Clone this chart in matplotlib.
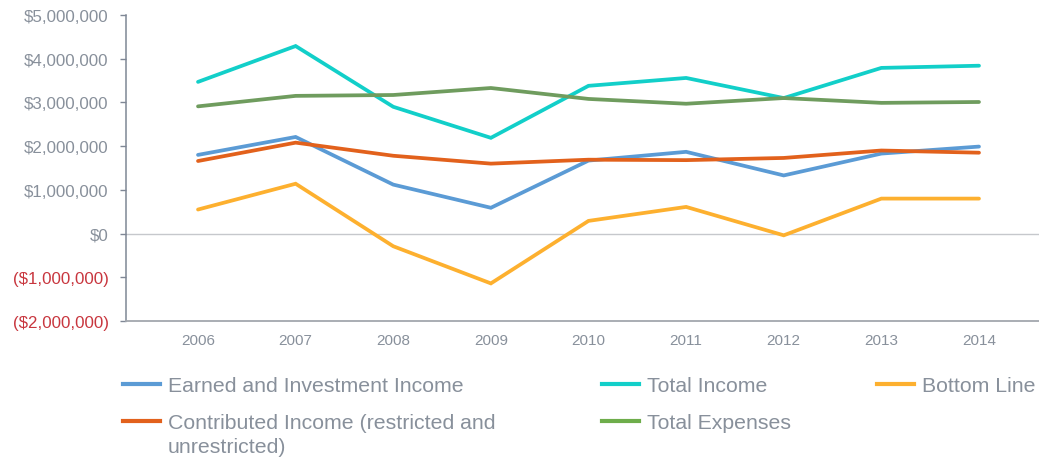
import matplotlib
matplotlib.use("Agg")
import matplotlib.pyplot as plt
from matplotlib.ticker import FuncFormatter
from matplotlib.lines import Line2D

plt.rcParams['font.family'] = ['Liberation Sans', 'DejaVu Sans']

years = ['2006', '2007', '2008', '2009', '2010', '2011', '2012', '2013', '2014']
earned = [1.80, 2.21, 1.12, 0.59, 1.67, 1.87, 1.33, 1.83, 1.99]
total_income = [3.47, 4.29, 2.90, 2.19, 3.38, 3.56, 3.10, 3.79, 3.84]
bottom_line = [0.55, 1.14, -0.29, -1.14, 0.29, 0.61, -0.04, 0.80, 0.80]
contributed = [1.66, 2.08, 1.78, 1.60, 1.69, 1.68, 1.73, 1.90, 1.85]
total_expenses = [2.91, 3.15, 3.17, 3.33, 3.08, 2.97, 3.10, 2.99, 3.01]
yticks = [-2e6, -1e6, 0, 1e6, 2e6, 3e6, 4e6, 5e6]

labels = ['Earned and Investment Income', 'Total Income', 'Bottom Line',
          'Contributed Income (restricted and', 'Total Expenses']
label_wrap = 'unrestricted)'
colors = ['#5B9BD5', '#12CFC9', '#FDB02F', '#E2611C', '#6F9C5E']
legend_colors = ['#5B9BD5', '#12CFC9', '#FDB02F', '#E2611C', '#6EAD4B']
series = [earned, total_income, bottom_line, contributed, total_expenses]

GRAY = '#88909B'
RED = '#C8363E'

fig = plt.figure(figsize=(10.39, 4.60), dpi=100)
ax = fig.add_axes([126/1039, 1-322/460, 1-126/1039, (322-16)/460])

x = list(range(len(years)))
ax.axhline(0, color='#C6C8CC', lw=1.0, zorder=1)
for vals, c in zip(series, colors):
    ax.plot(x, [v*1e6 for v in vals], color=c, lw=2.7, solid_capstyle='round',
            solid_joinstyle='miter', zorder=3)

ax.set_ylim(-2e6, 5e6)
ax.set_xlim(-(198-126)/97.6, 8 + (1039-979)/97.6)
ax.set_yticks(yticks)

def fmt(v, pos):
    if v < 0:
        return '(${:,.0f})'.format(-v)
    return '${:,.0f}'.format(v)
ax.yaxis.set_major_formatter(FuncFormatter(fmt))
ax.set_xticks(x)
ax.set_xticklabels(years)

for s in ['top', 'right']:
    ax.spines[s].set_visible(False)
ax.spines['left'].set_color('#7F8795')
ax.spines['left'].set_linewidth(1.1)
ax.spines['bottom'].set_color('#A3A7AE')
ax.spines['bottom'].set_linewidth(1.3)

ax.tick_params(axis='y', length=4.5, width=1.0, color='#7F8795', pad=8,
               labelsize=12.2, labelcolor=GRAY)
ax.tick_params(axis='x', length=0, pad=9, labelsize=11, labelcolor=GRAY)
for t, v in zip(ax.get_yticklabels(), yticks):
    if v < 0:
        t.set_color(RED)

fs = 15.3
common = dict(frameon=False, fontsize=fs, borderpad=0, borderaxespad=0,
              handlelength=1.72, handletextpad=0.38, labelspacing=0.85,
              labelcolor=GRAY, loc='upper left')

def h(i):
    return Line2D([], [], color=legend_colors[i], lw=3.0)

top = 1 - 377/460
fig.legend([h(0), h(3)], [labels[0], labels[3]],
           bbox_to_anchor=(123/1039, top), **common)
fig.legend([h(1), h(4)], [labels[1], labels[4]],
           bbox_to_anchor=(602/1039, top), **common)
fig.legend([h(2)], [labels[2]],
           bbox_to_anchor=(877/1039, top), **common)
fig.text(168/1039, 1 - 448/460, label_wrap, fontsize=fs, color=GRAY,
         ha='left', va='center')

fig.savefig('out.png', dpi=100)
